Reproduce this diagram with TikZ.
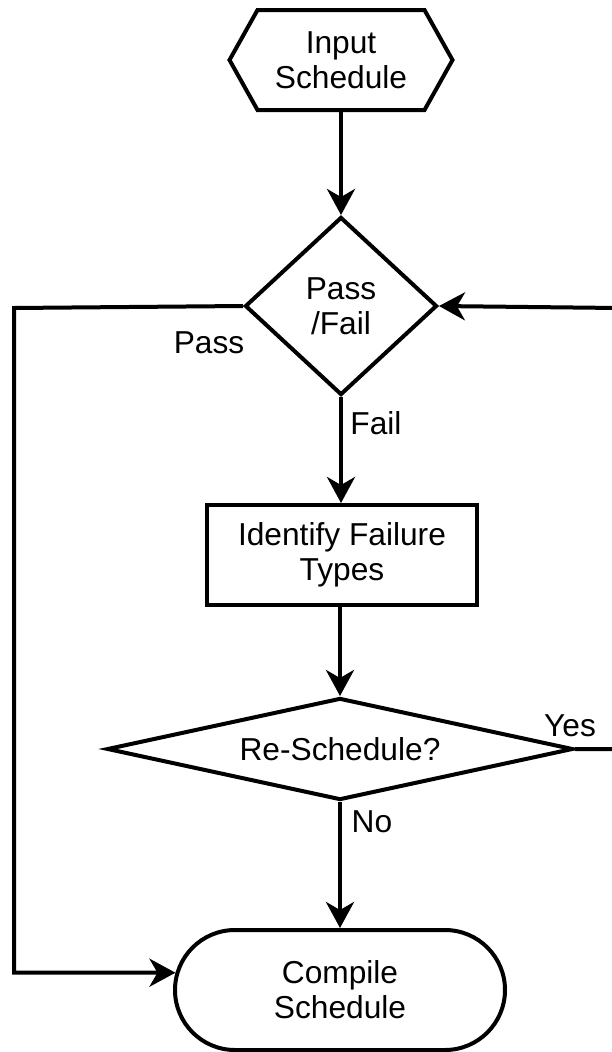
\documentclass[tikz,border=0pt]{standalone}
\usepackage{fontspec}
\setmainfont{Liberation Sans}
\usetikzlibrary{shapes.geometric,shapes.misc,shapes.symbols,arrows.meta}
\tikzset{
  every node/.style={font=\fontsize{31.7pt}{35pt}\selectfont, align=center, inner sep=0pt},
  shapebox/.style={draw=black, line width=4pt, fill=white},
  arr/.style={line width=4pt, -{Stealth[length=26pt,width=28pt,inset=8pt]}},
}
\begin{document}
\begin{tikzpicture}[x=1pt,y=-1pt]
\useasboundingbox (0,0) rectangle (612,1052);
\node[shapebox, signal, signal to=west and east, signal pointer angle=121.5,
      minimum width=223pt, minimum height=100pt] (IS) at (341,60) {Input\\Schedule};
\node[shapebox, diamond, shape aspect=1.08, minimum width=192pt, minimum height=178pt] (PF) at (341,306) {Pass\\/Fail};
\node[shapebox, rectangle, minimum width=270pt, minimum height=100pt] (IF) at (342,555) {Identify Failure\\Types};
\node[shapebox, diamond, shape aspect=4.5, minimum width=466pt, minimum height=102pt] (RS) at (340,749) {Re-Schedule?};
\node[shapebox, rounded rectangle, minimum width=330pt, minimum height=120pt] (CS) at (340,990) {Compile\\Schedule};

\node (lpass) at (209,343) {Pass};
\node (lfail) at (376,423) {Fail};
\node (lno) at (372,822) {No};
\node (lyes) at (570,726) {Yes};

\coordinate (L1) at (14,308);
\coordinate (R1) at (618,749);
\coordinate (R2) at (618,308);

\draw[arr] (IS.south) -- (PF.north);
\draw[arr] (PF.south) -- (PF.south |- IF.north);
\draw[arr] (IF.south -| RS.north) -- (RS.north);
\draw[arr] (RS.south) -- (CS.north);
\draw[arr] (PF.west) -- (L1) |- (CS.174);
\draw[arr] (RS.east) -- (R1) -- (R2) -- (PF.east);
\end{tikzpicture}
\end{document}
